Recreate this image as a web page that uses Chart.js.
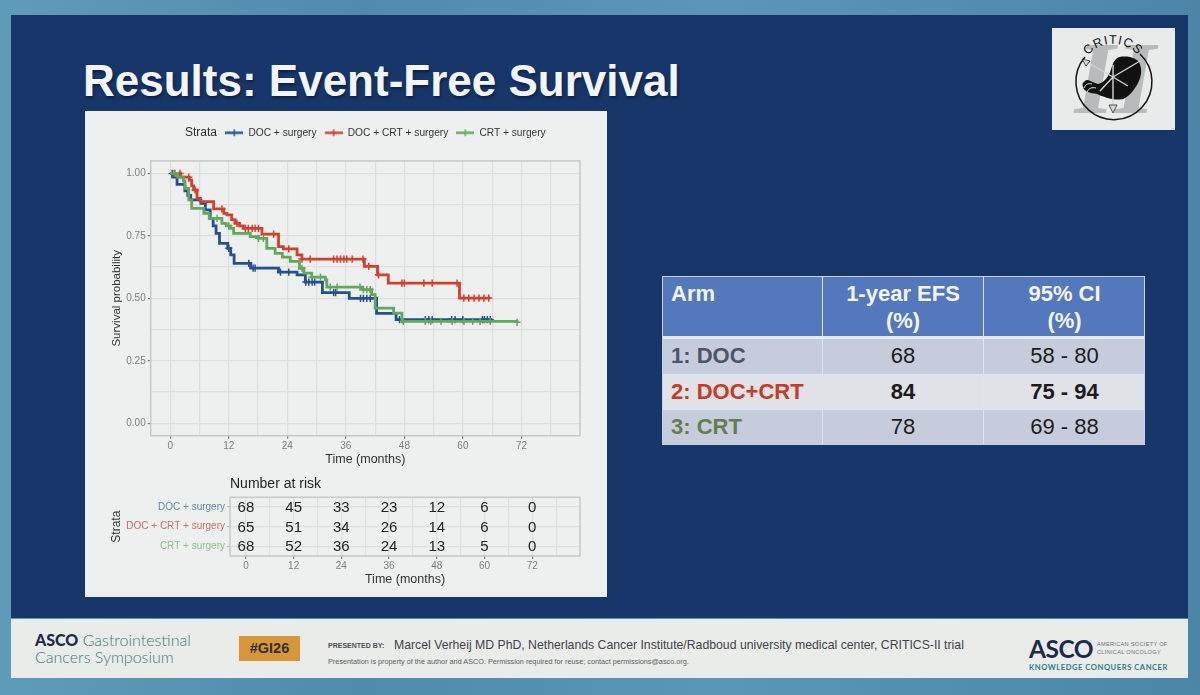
<!DOCTYPE html>
<html>
<head>
<meta charset="utf-8">
<title>Results: Event-Free Survival</title>
<script src="https://cdn.jsdelivr.net/npm/chart.js@4"></script>
<style>
  html, body { margin: 0; padding: 0; width: 1200px; height: 695px; overflow: hidden; }
  body { font-family: "Liberation Sans", Arial, sans-serif; }
  #stage { position: relative; width: 1200px; height: 695px; overflow: hidden; filter: blur(0.4px);
    background: linear-gradient(90deg, #5f9cb9 0%, #4f8bab 30%, #5b96b6 60%, #4b86a7 100%); }
  #stage > * { position: absolute; }
  #slide { left: 11px; top: 15px; width: 1177px; height: 603px; background: #17366a; }
  #footer { left: 11px; top: 619px; width: 1177px; height: 59px; background: #eaecea; }
  #title { left: 83px; top: 55px; font-size: 44px; font-weight: bold; color: #f3f5f7; line-height: 52px; white-space: nowrap;
    text-shadow: 1px 2px 3px rgba(5, 15, 40, 0.6); }
  #panel { left: 85px; top: 111px; width: 522px; height: 486px; background: #eef0ef; }
  #survival { left: 85px; top: 103px; }
  #risk { left: 85px; top: 470px; }
  #strata { left: 185px; top: 125px; font-size: 12px; line-height: 14px; color: #2c2c2c; }
  #logo { left: 1052px; top: 28px; }
  table { left: 662px; top: 276px; width: 483px; height: 169px; border-collapse: separate; border-spacing: 0; table-layout: fixed; font-size: 22px; color: #1c1c1c; outline: 1px solid #c9d2e4; outline-offset: -1px; }
  th, td { padding: 0; text-align: center; line-height: 27px; border-right: 1.5px solid #dfe4ee; border-bottom: 1.5px solid #dfe4ee; }
  th:last-child, td:last-child { border-right: 0; }
  tr:last-child td { border-bottom: 0; }
  th { background: #5378bd; color: #f3f5f9; height: 58px; padding-top: 1px; border-bottom: 3px solid #e6eaf2; }
  td { height: 32px; padding-bottom: 2px; background: #c6ccdb; }
  tr.alt td { background: #dfe2e7; }
  .arm { text-align: left; padding-left: 9px; font-weight: bold; vertical-align: top; }
  th.arm { padding-top: 4px; height: 55px; }
  td.arm { vertical-align: middle; }
  .doc { color: #4c5566; } .both { color: #c93a25; } .crt { color: #5f7f4f; }
  .b { font-weight: bold; }
  #tag { left: 239px; top: 636px; width: 61px; height: 25px; line-height: 25px; background: #d8963b; color: #33302c; font-size: 14.5px; font-weight: bold; text-align: center; }
  #pb { left: 328px; top: 642px; font-size: 7px; font-weight: bold; color: #4c4f55; white-space: nowrap; }
  #presenter { left: 394px; top: 638px; font-size: 12.25px; color: #3f4349; white-space: nowrap; }
  #notice { left: 328px; top: 657px; font-size: 7.28px; color: #5b5e63; white-space: nowrap; }
  #gi { left: 35px; top: 631px; font-family: Lato, sans-serif; font-weight: 300; font-size: 16px; line-height: 17px; color: #44797c; white-space: nowrap; }
  #gi b { font-weight: 900; color: #1d2a4c; }
  #asco { left: 1029px; top: 634px; font-family: Lato, sans-serif; font-weight: 700; font-size: 24.5px; line-height: 30px; color: #1d2a4c; letter-spacing: -0.5px; }
  #society { left: 1097px; top: 640px; font-size: 5.6px; line-height: 8px; color: #6b7178; letter-spacing: 0.3px; white-space: nowrap; }
  #motto { left: 1029px; top: 662px; font-family: Lato, sans-serif; font-size: 7.6px; font-weight: 700; letter-spacing: 0.55px; color: #2f7d88; white-space: nowrap; }
</style>
</head>
<body>
<div id="stage">
  <div id="slide"></div>
  <div id="footer"></div>
  <div id="title">Results: Event-Free Survival</div>
  <div id="panel"></div>
  <canvas id="survival" width="522" height="367"></canvas>
  <canvas id="risk" width="522" height="127"></canvas>
  <div id="strata">Strata</div>

  <svg id="logo" width="123" height="102" viewBox="0 0 123 102">
    <rect width="123" height="102" fill="#e9ebeb"/>
    <text x="63" y="85" text-anchor="middle" font-family="Liberation Serif" font-style="italic" font-weight="bold" font-size="104" fill="#b8bbbb">II</text>
    <path d="M88 26 A38 38 0 1 1 33 29" fill="none" stroke="#151515" stroke-width="1.5"/>
    <path d="M65 30 C72 27 83 29 87 34 C91 42 89 50 85 57 C80 65 76 69 71 71 C62 73 52 69 45 66 C38 65 34 64 32 61 C30 58 30 55 32 54 C33 52 35 52 36 52 C39 53 42 55 46 56 C50 55 54 52 56 48 C60 43 59 35 65 30 Z" fill="#111"/>
    <path d="M32 60 C34 56 36 55 40 56 M35 64 C37 60 40 59 44 60" fill="none" stroke="#e9ebeb" stroke-width="1"/>
    <path d="M61 49 L33 33 M61 37 L61 83 M61 49 L88 33 M61 49 L76 58 M61 49 L48 63" stroke="#d2d5d5" stroke-width="1.4" fill="none"/>
    <path d="M30 31 L38 33 L34 38 Z M57 77 L65 77 L61 85 Z" fill="#d5d7d7" stroke="#111" stroke-width="0.7"/>
    <path id="arc" d="M28.5 43 A33 33 0 0 1 93.5 43" fill="none"/>
    <text font-family="Liberation Sans" font-size="12.5" fill="#111" letter-spacing="1" text-anchor="middle"><textPath href="#arc" startOffset="50%">CRITICS</textPath></text>
  </svg>

  <table>
    <colgroup><col style="width:161px"><col style="width:161px"><col style="width:161px"></colgroup>
    <tr><th class="arm">Arm</th><th>1-year EFS<br>(%)</th><th>95% CI<br>(%)</th></tr>
    <tr><td class="arm doc">1: DOC</td><td>68</td><td>58 - 80</td></tr>
    <tr class="alt"><td class="arm both">2: DOC+CRT</td><td class="b">84</td><td class="b">75 - 94</td></tr>
    <tr><td class="arm crt">3: CRT</td><td>78</td><td>69 - 88</td></tr>
  </table>

  <div id="gi"><b>ASCO</b> Gastrointestinal<br>Cancers Symposium</div>
  <div id="tag">#GI26</div>
  <div id="pb">PRESENTED BY:</div>
  <div id="presenter">Marcel Verheij MD PhD, Netherlands Cancer Institute/Radboud university medical center, CRITICS-II trial</div>
  <div id="notice">Presentation is property of the author and ASCO. Permission required for reuse; contact permissions@asco.org.</div>
  <div id="asco">ASCO</div>
  <div id="society">AMERICAN SOCIETY OF<br>CLINICAL ONCOLOGY</div>
  <div id="motto">KNOWLEDGE CONQUERS CANCER</div>
</div>

<script>
const strataNames = ["DOC + surgery", "DOC + CRT + surgery", "CRT + surgery"];
const strataColors = ["#24508f", "#d2402d", "#62a75c"];
const strataTickColors = ["#6485b0", "#cf6f5e", "#8fc48a"];

const docMonths = [0, 0.5, 1.4, 3.0, 3.6, 4.2, 6.3, 7.2, 8.2, 8.8, 9.4, 10.1, 11.8, 12.4, 13.1, 16.5, 22.2, 26.0, 27.7, 31.2, 36.7, 42.3, 46.3, 66];
const docSurvival = [1, 0.985, 0.956, 0.93, 0.912, 0.894, 0.88, 0.854, 0.82, 0.79, 0.76, 0.72, 0.70, 0.674, 0.64, 0.621, 0.605, 0.594, 0.565, 0.523, 0.50, 0.44, 0.415, 0.415];
const docCensorMonths = [0.4, 12, 16.1, 17, 17.4, 22.6, 24.3, 27.8, 28.4, 29.1, 29.6, 33.5, 33.9, 39, 39.6, 40.3, 41, 47, 47.5, 52.3, 53, 53.7, 57.7, 58.4, 60, 64, 64.4, 65, 65.6];
const docCensorSurvival = [1, 0.70, 0.64, 0.621, 0.621, 0.605, 0.605, 0.565, 0.565, 0.565, 0.565, 0.523, 0.523, 0.50, 0.50, 0.50, 0.50, 0.415, 0.415, 0.415, 0.415, 0.415, 0.415, 0.415, 0.415, 0.415, 0.415, 0.415, 0.415];

const bothMonths = [0, 2.1, 3.9, 4.4, 4.8, 5.5, 6.2, 8.9, 11.0, 11.6, 12.6, 13.3, 14.2, 15, 18.8, 22.2, 23.2, 26, 27, 39.8, 42.5, 44.7, 59.3, 65.6];
const bothSurvival = [1, 0.985, 0.973, 0.95, 0.934, 0.90, 0.887, 0.858, 0.84, 0.834, 0.815, 0.80, 0.79, 0.78, 0.757, 0.707, 0.698, 0.674, 0.657, 0.628, 0.594, 0.561, 0.501, 0.501];
const bothCensorMonths = [0.8, 2, 3.8, 5.1, 10.6, 13.7, 15.4, 16, 16.8, 17.4, 18.1, 21.2, 24.3, 27, 28.7, 33.5, 34.2, 34.9, 35.6, 36.2, 37.3, 39.5, 40.7, 42.7, 47.5, 48, 52, 53.7, 58.8, 60.2, 61.2, 62.3, 63.3, 64.3, 65.3];
const bothCensorSurvival = [1, 1, 0.985, 0.934, 0.858, 0.80, 0.78, 0.78, 0.78, 0.78, 0.78, 0.757, 0.698, 0.657, 0.657, 0.657, 0.657, 0.657, 0.657, 0.657, 0.657, 0.657, 0.628, 0.594, 0.561, 0.561, 0.561, 0.561, 0.561, 0.501, 0.501, 0.501, 0.501, 0.501, 0.501];

const crtMonths = [0, 1.5, 2.7, 3.0, 3.8, 4.4, 6.9, 8.0, 10.6, 11.5, 12.3, 13.0, 16.4, 18.1, 19.8, 21.5, 23, 24.6, 26.5, 27.4, 29, 31.8, 32.1, 39.4, 41.3, 42, 45.8, 47.5, 71.1];
const crtSurvival = [1, 0.985, 0.97, 0.94, 0.894, 0.86, 0.84, 0.82, 0.80, 0.79, 0.78, 0.76, 0.747, 0.74, 0.70, 0.68, 0.665, 0.648, 0.62, 0.601, 0.585, 0.574, 0.545, 0.535, 0.515, 0.461, 0.441, 0.408, 0.404];
const crtCensorMonths = [1, 9.6, 12, 18.1, 19.1, 27, 29, 30.8, 32.8, 34.2, 38.9, 39.6, 40.3, 41, 47.8, 52.3, 53.4, 55.5, 57.8, 60.2, 62, 63.5, 65.6, 71.1];
const crtCensorSurvival = [1, 0.82, 0.79, 0.74, 0.74, 0.62, 0.585, 0.585, 0.545, 0.545, 0.545, 0.535, 0.535, 0.535, 0.408, 0.408, 0.408, 0.408, 0.408, 0.408, 0.408, 0.408, 0.408, 0.404];

const monthGrid = [0, 6, 12, 18, 24, 30, 36, 42, 48, 54, 60, 66, 72, 78];
const monthLabels = [0, 12, 24, 36, 48, 60, 72];
const survivalGrid = [0, 0.125, 0.25, 0.375, 0.5, 0.625, 0.75, 0.875, 1];
const survivalLabels = [0, 0.25, 0.5, 0.75, 1];

const riskMonths = [0, 12, 24, 36, 48, 60, 72];
const docAtRisk = [68, 45, 33, 23, 12, 6, 0];
const bothAtRisk = [65, 51, 34, 26, 14, 6, 0];
const crtAtRisk = [68, 52, 36, 24, 13, 5, 0];

const gridColor = "#dcdfdf";
const tickTextColor = "#7e8080";

const zip = (xs, ys) => xs.map((x, i) => ({ x: x, y: ys[i] }));

const curve = (k, xs, ys) => ({
  label: strataNames[k],
  data: zip(xs, ys),
  stepped: true,
  borderColor: strataColors[k],
  backgroundColor: strataColors[k],
  borderWidth: 2.8,
  pointRadius: 0,
  order: 3 - k,
});

const censor = (k, xs, ys) => ({
  label: strataNames[k] + " censored",
  data: zip(xs, ys),
  showLine: false,
  pointStyle: "cross",
  pointRadius: 3.6,
  pointBorderWidth: 1.5,
  pointBorderColor: strataColors[k],
  order: 3 - k,
});

// line with a cross through it, same as the ggplot legend key
const legendKey = (color) => {
  const key = document.createElement("canvas");
  key.width = 18;
  key.height = 9;
  const ctx = key.getContext("2d");
  ctx.strokeStyle = color;
  ctx.lineWidth = 2.4;
  ctx.beginPath();
  ctx.moveTo(0, 4.5);
  ctx.lineTo(18, 4.5);
  ctx.stroke();
  ctx.lineWidth = 1.4;
  ctx.beginPath();
  ctx.moveTo(9, 1);
  ctx.lineTo(9, 8);
  ctx.stroke();
  return key;
};

const panelBorder = {
  id: "panelBorder",
  afterDatasetsDraw(chart) {
    const { ctx, chartArea: a } = chart;
    ctx.save();
    ctx.strokeStyle = "#c6c9c9";
    ctx.lineWidth = 1.5;
    ctx.strokeRect(a.left, a.top, a.right - a.left, a.bottom - a.top);
    ctx.restore();
  },
};

const moveLegend = {
  id: "moveLegend",
  afterLayout(chart) {
    chart.legend.left += 53;
    chart.legend.right += 53;
    chart.legend.top -= 13;
    chart.legend.bottom -= 13;
  },
};

const riskNumbers = {
  id: "riskNumbers",
  afterDatasetsDraw(chart) {
    const { ctx } = chart;
    ctx.save();
    ctx.font = "15px 'Liberation Sans'";
    ctx.fillStyle = "#222";
    ctx.textAlign = "center";
    ctx.textBaseline = "middle";
    chart.data.datasets.forEach((ds, d) => {
      chart.getDatasetMeta(d).data.forEach((pt, i) => {
        ctx.fillText(ds.counts[i], pt.x, pt.y + 1);
      });
    });
    ctx.restore();
  },
};

const monthAxis = (height) => ({
  type: "linear",
  min: -4,
  max: 84,
  afterFit: (scale) => { scale.height = height; },
  afterBuildTicks: (scale) => { scale.ticks = monthGrid.map((v) => ({ value: v })); },
  border: { display: false },
  grid: {
    color: gridColor,
    lineWidth: 1.2,
    tickLength: 3,
    tickColor: (c) => (c.tick && monthLabels.includes(c.tick.value) ? "#7e8080" : "rgba(0,0,0,0)"),
  },
  ticks: {
    autoSkip: false,
    maxRotation: 0,
    padding: 2,
    color: tickTextColor,
    font: { family: "Liberation Sans", size: 10 },
    callback: (v) => (monthLabels.includes(v) ? String(v) : ""),
  },
});

new Chart(document.getElementById("survival"), {
  type: "scatter",
  data: {
    datasets: [
      curve(0, docMonths, docSurvival),
      curve(1, bothMonths, bothSurvival),
      curve(2, crtMonths, crtSurvival),
      censor(0, docCensorMonths, docCensorSurvival),
      censor(1, bothCensorMonths, bothCensorSurvival),
      censor(2, crtCensorMonths, crtCensorSurvival),
    ],
  },
  plugins: [panelBorder, moveLegend],
  options: {
    responsive: false,
    animation: false,
    devicePixelRatio: 1,
    showLine: true,
    layout: { padding: { top: 29.7, right: 27, left: 0, bottom: 0 } },
    plugins: {
      tooltip: { enabled: false },
      legend: {
        position: "top",
        labels: {
          usePointStyle: true,
          pointStyleWidth: 18,
          padding: 8,
          color: "#333",
          font: { family: "Liberation Sans", size: 10.2 },
          generateLabels: () =>
            strataNames.map((name, k) => ({
              text: name,
              datasetIndex: k,
              pointStyle: legendKey(strataColors[k]),
              fontColor: "#333",
              lineWidth: 0,
            })),
        },
      },
    },
    scales: {
      x: {
        ...monthAxis(34.3),
        title: {
          display: true,
          text: "Time (months)",
          color: "#333",
          font: { family: "Liberation Sans", size: 12.5 },
          padding: { top: 0, bottom: 2.5 },
        },
      },
      y: {
        type: "linear",
        min: -0.05,
        max: 1.05,
        afterFit: (scale) => { scale.width = 65.7; },
        afterBuildTicks: (scale) => { scale.ticks = survivalGrid.map((v) => ({ value: v })); },
        border: { display: false },
        grid: {
          color: gridColor,
          lineWidth: 1.2,
          tickLength: 3,
          tickColor: (c) => (c.tick && survivalLabels.includes(c.tick.value) ? "#7e8080" : "rgba(0,0,0,0)"),
        },
        ticks: {
          autoSkip: false,
          padding: 2,
          color: tickTextColor,
          font: { family: "Liberation Sans", size: 10 },
          callback: (v) => (survivalLabels.includes(v) ? v.toFixed(2) : ""),
        },
        title: {
          display: true,
          text: "Survival probability",
          color: "#333",
          font: { family: "Liberation Sans", size: 11.5 },
          padding: { top: 25, bottom: 0 },
        },
      },
    },
  },
});

const riskRow = (k, counts) => ({
  label: strataNames[k],
  data: riskMonths.map((m) => ({ x: m, y: strataNames[k] })),
  counts: counts,
  pointRadius: 0,
  showLine: false,
});

new Chart(document.getElementById("risk"), {
  type: "scatter",
  data: {
    datasets: [riskRow(0, docAtRisk), riskRow(1, bothAtRisk), riskRow(2, crtAtRisk)],
  },
  plugins: [panelBorder, riskNumbers],
  options: {
    responsive: false,
    animation: false,
    devicePixelRatio: 1,
    layout: { padding: { top: 0, right: 27, left: 0, bottom: 0 } },
    plugins: {
      tooltip: { enabled: false },
      legend: { display: false },
      title: {
        display: true,
        text: "Number at risk",
        align: "start",
        fullSize: false,
        color: "#222",
        font: { family: "Liberation Sans", size: 14, weight: "normal" },
        padding: { top: 5.6, bottom: 4.9 },
      },
    },
    scales: {
      x: {
        ...monthAxis(41),
        ticks: { ...monthAxis(41).ticks, padding: 1 },
        title: {
          display: true,
          text: "Time (months)",
          color: "#333",
          font: { family: "Liberation Sans", size: 12.5 },
          padding: { top: 0, bottom: 10 },
        },
      },
      y: {
        type: "category",
        labels: strataNames,
        offset: true,
        afterFit: (scale) => { scale.width = 145; },
        border: { display: false },
        grid: { color: gridColor, lineWidth: 1.2, tickLength: 3, tickColor: "#b8baba" },
        ticks: {
          padding: 2,
          color: (c) => strataTickColors[c.index],
          font: { family: "Liberation Sans", size: 10 },
        },
        title: {
          display: true,
          text: "Strata",
          color: "#333",
          font: { family: "Liberation Sans", size: 12 },
          padding: { top: 24, bottom: 0 },
        },
      },
    },
  },
});
</script>
</body>
</html>
